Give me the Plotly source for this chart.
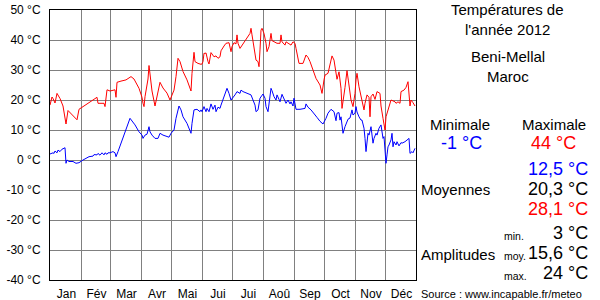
import plotly.graph_objects as go

# ---- data ----
max_days = [0,2,3,5,7,10,13,15,16,18,27,29,47,48,54,55,56,57,60,65,66,67,71,76,81,84,89,92,93,94,95,97,98,99,100,102,105,106,110,113,117,120,122,124,126,128,130,133,137,140,141,142,144,145,148,151,152,153,154,155,156,158,159,161,164,166,168,170,171,174,176,179,181,182,184,186,187,188,190,200,201,202,204,206,208,209,210,211,212,214,216,217,219,221,222,225,227,230,231,232,235,236,239,241,243,245,246,247,249,253,255,256,258,260,263,266,270,272,274,275,278,280,282,284,286,287,289,291,292,294,295,297,299,301,303,305,306,307,309,311,314,315,317,319,320,321,323,325,327,330,331,333,335,336,339,341,345,346,348,350,351,354,356,358,360,361,363,365]
max_vals = [18.3,21,20.5,19,22.2,20.5,18,14,12,16.5,13.4,16.9,20.9,18.9,18.9,17.8,22.2,23.4,23,23.4,20.9,25.9,26.3,26.7,27.8,27,23.9,20.9,18.9,17.8,21.1,25.6,27,31.5,28.3,23,18,19.5,25.9,24,22.3,20,22,23.3,27.8,33.9,32.8,29.5,26.7,23.9,23,28.9,35.9,32.8,32.2,31.9,32,32.8,35.6,35.5,35.7,32.8,32,35.8,34.4,34.7,33.9,34.4,36.4,38,38.9,39.1,36.1,37.8,39.1,38.7,41.7,38.9,37.2,42.2,43.9,41.7,37.2,33.3,32.8,31.1,36.7,43.3,43.9,42.2,38.9,36.1,37.8,42.2,39.8,39.1,38.9,38.9,41.7,39.4,38.3,39.4,38.9,38.3,39.4,38.9,37.2,35.5,32.2,32.2,34.4,35,34.2,32.8,30,27.2,25,22.2,26.7,28.3,28.9,32.2,34.7,33.3,29.4,26.9,29.4,23.9,17.2,21.1,24.2,29.8,23.9,20,17.8,22.2,26.7,28.9,24.4,21.1,16.7,18.9,21.7,20.9,14.4,21.1,22,20.2,22.8,22.2,18,13.9,10,14.4,18,20,19.4,18.9,19.4,18.9,22.8,23.3,24.2,26.1,18,20,19.1,18]

min_days = [0,3,4,5,7,8,10,12,14,15,16,17,19,23,26,29,33,36,39,43,44,47,48,50,52,54,55,57,58,60,63,65,66,68,71,75,77,80,85,89,92,93,95,97,99,100,102,105,108,110,113,116,119,121,124,126,129,131,133,137,139,141,142,144,147,150,151,152,154,156,157,159,161,163,165,166,168,170,171,173,177,179,181,185,187,190,191,193,196,200,201,203,205,206,208,210,211,213,215,216,218,220,221,222,224,226,227,229,230,232,235,236,238,240,241,243,244,246,250,255,256,258,261,264,267,270,273,276,278,281,284,286,287,289,290,291,293,295,297,298,300,302,303,305,306,307,309,311,312,314,315,316,318,319,321,322,323,324,326,327,329,331,332,333,334,335,336,337,338,339,341,342,343,344,346,347,349,351,352,355,357,359,360,362,363,365]
min_vals = [2,2.4,2.2,3,2.4,3.3,2.8,3.6,3.9,4.1,-1.1,0,-0.5,-0.5,-1.1,-0.9,0,0.6,1.1,1.3,1.8,1.7,2.2,1.6,2.4,1.7,2.4,1.9,2.4,2.4,2.8,2.4,1.1,2.8,5.6,8.9,11.1,13.9,11.7,9.4,8.3,7.2,8.3,8.6,11.1,9.4,8.3,7.2,7.2,8.9,8.3,8,7.6,8.9,10,13.9,18,16.7,14.4,12.2,10.6,8.9,12.2,16.7,16.9,16.1,16.7,16.1,17.8,16.1,17.2,16.1,18.7,16.9,18.3,16.1,17.6,17.2,18.3,20.2,23.9,22.2,20,21.7,22.8,22.2,23.3,22.8,22.4,22,21.7,20,18.3,16.1,16.7,20.6,21.1,22,20.6,17.8,16.1,21.1,23.9,23.1,21.1,20,21.7,20.2,19.4,21.9,20,18.9,20,18.7,19.4,18,20.6,16.9,16.9,17.2,18.7,17.6,16.7,15.6,14.2,12.9,12,13.9,15.6,16.9,16.1,13.1,15.6,15.8,13.3,14.4,8.9,11.1,12.8,13.6,14,16.7,15,15.6,17.8,16,14.4,13.3,13.3,10.6,7.2,2.8,8.9,8.3,11.1,8.3,5.6,7.2,8.9,8.3,10.6,11.7,8.3,7.2,7.8,4.4,-1.1,1.7,4.4,5,6.7,8.9,4.4,6.1,5,6.1,4.7,5.8,5.6,6.1,6.7,7.2,2.2,2.8,2.4,3.9]

month_bounds = [0,31,60,91,121,152,182,213,244,274,305,335,366]
month_labels = ["Jan","Fév","Mar","Avr","Mai","Jui","Jui","Aoû","Sep","Oct","Nov","Déc"]
y_ticks = [-40,-30,-20,-10,0,10,20,30,40,50]
y_labels = [f"{v} °C" for v in y_ticks]

title_lines = ["Températures de", "l'année 2012", "Beni-Mellal", "Maroc"]
stat_min, stat_max = "-1 °C", "44 °C"
avg_vals = ["12,5 °C", "20,3 °C", "28,1 °C"]
amp_vals = ["3 °C", "15,6 °C", "24 °C"]
amp_tags = ["min.", "moy.", "max."]
source = "Source : www.incapable.fr/meteo"

FONT = "Liberation Sans, Arial, sans-serif"
L, R, T, B = 50, 184, 10, 20
W, H = 600, 300
PW, PH = W - L - R, H - T - B

fig = go.Figure()
fig.add_trace(go.Scatter(x=max_days, y=max_vals, mode="lines",
                         line=dict(color="#ff0000", width=1), hoverinfo="skip"))
fig.add_trace(go.Scatter(x=min_days, y=min_vals, mode="lines",
                         line=dict(color="#0000ff", width=1), hoverinfo="skip"))
# invisible trace for the gridline axis
fig.add_trace(go.Scatter(x=[0, 366], y=[None, None], xaxis="x2", mode="lines",
                         showlegend=False, hoverinfo="skip"))

mids = [(month_bounds[i] + month_bounds[i + 1]) / 2 + 1 for i in range(12)]

fig.update_layout(
    template="none",
    width=W, height=H, margin=dict(l=L, r=R, t=T, b=B, pad=0, autoexpand=False),
    paper_bgcolor="white", plot_bgcolor="white", showlegend=False,
    font=dict(family=FONT, size=12, color="black"),
    xaxis=dict(range=[0, 366], tickvals=mids, ticktext=month_labels,
               showgrid=False, zeroline=False, ticks="", ticklabelstandoff=3,
               automargin=False,
               showline=True, linecolor="black", linewidth=1, mirror=True,
               tickfont=dict(size=12, family=FONT)),
    xaxis2=dict(range=[0, 366], overlaying="x", tickvals=month_bounds[1:-1],
                showticklabels=False, showgrid=True, gridcolor="#808080",
                gridwidth=1, zeroline=False, ticks="", automargin=False,
                showline=False),
    yaxis=dict(range=[-40, 50], tickvals=y_ticks, ticktext=y_labels,
               showgrid=True, gridcolor="#808080", gridwidth=1, zeroline=False,
               ticks="", ticklabelstandoff=6, showline=True, linecolor="black",
               automargin=False,
               linewidth=1, mirror=True, tickfont=dict(size=12, family=FONT)),
)


def px2paper(px, py):
    return (px - L) / PW, (H - B - py) / PH


def ann(text, px, py, size=14, color="black", xanchor="center"):
    x, y = px2paper(px, py)
    fig.add_annotation(text=text, x=x, y=y, xref="paper", yref="paper",
                       xanchor=xanchor, yanchor="middle", showarrow=False,
                       borderpad=0,
                       font=dict(family=FONT, size=size, color=color))


ann(title_lines[0], 507, 9.5, size=15)
ann(title_lines[1], 507, 29.5, size=15)
ann(title_lines[2], 508, 56, size=15)
ann(title_lines[3], 508, 76, size=15)
ann("Minimale", 460, 124, size=15)
ann("Maximale", 554, 124, size=15)
ann(stat_min, 461, 143, size=18, color="#0000ff")
ann(stat_max, 553, 143, size=18, color="#ff0000")
ann(avg_vals[0], 589, 168.5, size=18, color="#0000ff", xanchor="right")
ann(avg_vals[1], 589, 188.5, size=18, color="black", xanchor="right")
ann(avg_vals[2], 589, 208.5, size=18, color="#ff0000", xanchor="right")
ann("Moyennes", 420, 189, size=15, xanchor="left")
ann("Amplitudes", 420, 254, size=15, xanchor="left")
for tag, val, yy in zip(amp_tags, amp_vals, [234, 254, 274]):
    ann(tag, 503, yy + 2, size=10.5, xanchor="left")
    ann(val, 589, yy - 1, size=18, xanchor="right")
ann(source, 420, 294, size=11, xanchor="left")

fig.write_html("out.html")
